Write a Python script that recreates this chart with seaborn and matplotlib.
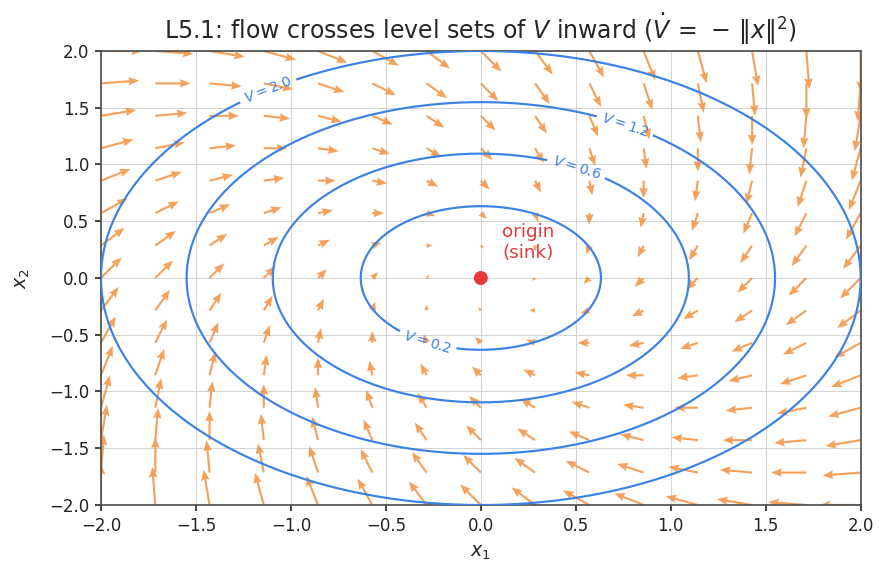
import numpy as np
import pandas as pd
import matplotlib
matplotlib.use("Agg")
import matplotlib.pyplot as plt
import seaborn as sns

# system x' = A x, with V = ||x||^2 / 2
A = [[-1.0, 1.0],
     [-1.0, -1.0]]
grid_pts = np.linspace(-2, 2, 15)
levels = [0.2, 0.6, 1.2, 2.0]
origin_x = [0.0]
origin_y = [0.0]
ticks = [-2.0, -1.5, -1.0, -0.5, 0.0, 0.5, 1.0, 1.5, 2.0]

sns.set_theme(style="ticks")
plt.rcParams['font.family'] = ['DejaVu Sans']

fig = plt.figure(figsize=(890 / 120, 578 / 120), dpi=120)
ax = fig.add_axes([0.1135, 0.1263, 0.8535, 0.7855])

X1, X2 = np.meshgrid(grid_pts, grid_pts)
U = A[0][0] * X1 + A[0][1] * X2
W = A[1][0] * X1 + A[1][1] * X2
ax.quiver(X1, X2, U, W, color="#f28c38", alpha=0.82, scale=74,
          width=0.0028, headwidth=4, headlength=5, headaxislength=4.5,
          zorder=2)

# level sets of V
fine = np.linspace(-2, 2, 400)
F1, F2 = np.meshgrid(fine, fine)
Vf = 0.5 * (F1**2 + F2**2)
cs = ax.contour(F1, F2, Vf, levels=levels, colors="#3b82e6",
                linewidths=1.3, zorder=3)
ax.clabel(cs, inline=True, fontsize=8.5,
          fmt=lambda v: rf"$V = {v:.1f}$",
          manual=[(-1.12, 1.65), (0.75, 1.3), (0.5, 0.95), (-0.28, -0.56)])

origin = pd.DataFrame({"x1": origin_x, "x2": origin_y})
sns.scatterplot(data=origin, x="x1", y="x2", ax=ax, color="#e5383b",
                s=70, edgecolor="none", zorder=5, legend=False)
ax.text(0.25, 0.31, "origin\n(sink)", color="#e5383b", fontsize=11,
        ha="center", va="center", zorder=6)

ax.set_xlim(-2, 2)
ax.set_ylim(-2, 2)
ax.set_xticks(ticks)
ax.set_yticks(ticks)
ax.grid(True, color="#d4d4d4", linewidth=0.6, zorder=0)
ax.set_axisbelow(True)
for s in ax.spines.values():
    s.set_color("#4a4a4a")
    s.set_linewidth(1.0)
ax.tick_params(colors="#222222", labelsize=10, length=3.5, color="#4a4a4a")
ax.set_xlabel(r"$x_1$", fontsize=11.5, labelpad=5)
ax.set_ylabel(r"$x_2$", fontsize=11.5, labelpad=10)
ax.set_title(r"L5.1: flow crosses level sets of $V$ inward ($\dot{V}\,=\,-\,\|x\|^2$)",
             fontsize=14.2, pad=7)

fig.savefig("out.png", dpi=120)
